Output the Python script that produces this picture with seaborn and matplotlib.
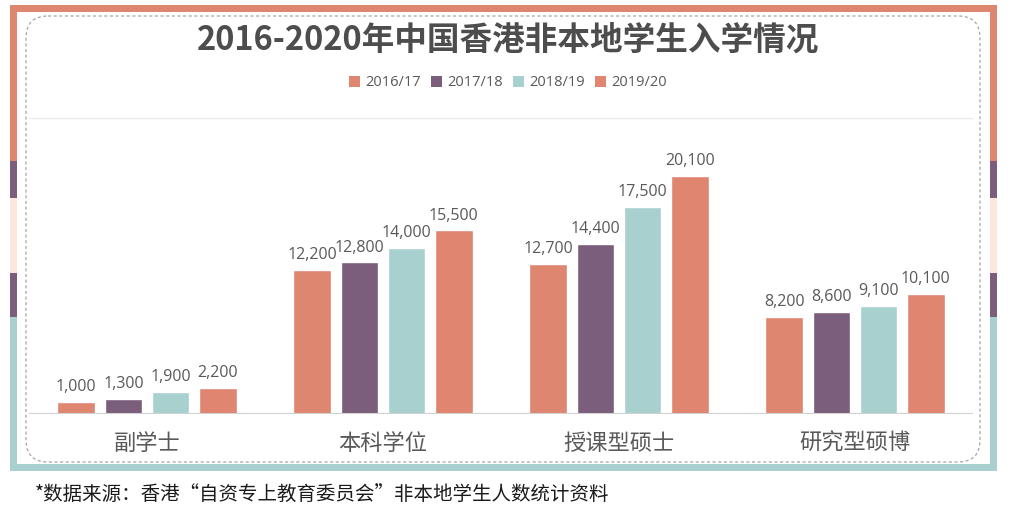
import matplotlib
matplotlib.use("Agg")
import matplotlib.pyplot as plt
import seaborn as sns
import pandas as pd
from matplotlib.patches import Rectangle, FancyBboxPatch, Patch

categories = ["副学士", "本科学位", "授课型硕士", "研究型硕博"]
years = ["2016/17", "2017/18", "2018/19", "2019/20"]
v_2016 = [1000, 12200, 12700, 8200]
v_2017 = [1300, 12800, 14400, 8600]
v_2018 = [1900, 14000, 17500, 9100]
v_2019 = [2200, 15500, 20100, 10100]
colors = ["#DE8670", "#7B5E7B", "#A7D0CE", "#DF8570"]

title = "2016-2020年中国香港非本地学生入学情况"
footnote = "*数据来源：香港“自资专上教育委员会”非本地学生人数统计资料"

rows = []
for yr, vals in zip(years, [v_2016, v_2017, v_2018, v_2019]):
    for c, v in zip(categories, vals):
        rows.append({"cat": c, "year": yr, "val": v})
df = pd.DataFrame(rows)

sns.set_theme(style="white")
plt.rcParams['font.family'] = ['Noto Sans CJK SC', 'DejaVu Sans']
num_font = ['Open Sans', 'Noto Sans CJK SC']

W, H = 1016, 518
fig = plt.figure(figsize=(W / 100, H / 100), dpi=100)

# background decoration axes in pixel coordinates
bg = fig.add_axes([0, 0, 1, 1], zorder=0)
bg.set_xlim(0, W)
bg.set_ylim(H, 0)
bg.axis("off")

salmon, purple, peach, teal = "#DE8670", "#7B5E7B", "#FCE7DC", "#A9CFCF"
x0, x1, y0, y1, t = 10, 997, 5, 471, 7
bg.add_patch(Rectangle((x0, y0), x1 - x0, t, color=salmon, lw=0))
bg.add_patch(Rectangle((x0, y1 - t), x1 - x0, t, color=teal, lw=0))
stripes = [(y0, 161, salmon), (161, 198, purple), (198, 273, peach),
           (273, 317, purple), (317, y1, teal)]
for ya, yb, col in stripes:
    bg.add_patch(Rectangle((x0, ya), t, yb - ya, color=col, lw=0))
    bg.add_patch(Rectangle((x1 - t, ya), t, yb - ya, color=col, lw=0))
bg.add_patch(FancyBboxPatch((26, 16), 980 - 26, 462 - 16,
                            boxstyle="round,pad=0,rounding_size=22",
                            fill=False, ec="#A6A6A6", lw=0.9, ls=(0, (2.5, 2))))

ax = fig.add_axes([29 / W, 104 / H, 944 / W, 296 / H], zorder=1)
ax.set_facecolor("none")
sns.barplot(data=df, x="cat", y="val", hue="year", palette=colors,
            width=0.8, gap=0.2, ax=ax, legend=False, saturation=1)
ax.set_xlim(-0.5, 3.5)
ax.set_ylim(0, 25000)
for cont in ax.containers:
    ax.bar_label(cont, labels=[f"{v:,.0f}" for v in cont.datavalues],
                 padding=5, fontsize=11.5, color="#595959", family=num_font)
ax.axhline(25000, color="#E8E8E8", lw=1, zorder=0)
ax.axhline(0, color="#D0D0D0", lw=1.5, zorder=3)
for s in ax.spines.values():
    s.set_visible(False)
ax.set_yticks([])
ax.set_xlabel("")
ax.set_ylabel("")
ax.tick_params(axis="x", length=0, pad=13, labelsize=16, labelcolor="#595959")

fig.text(0.5, 1 - 40 / H, title, ha="center", va="center", fontsize=23.5,
         fontweight="bold", color="#4D4D4D")
handles = [Patch(facecolor=c, edgecolor="none") for c in colors]
leg = fig.legend(handles, years, loc="center", bbox_to_anchor=(0.5, 1 - 83 / H), ncol=4,
                 frameon=False, handlelength=0.75, handleheight=0.75,
                 handletextpad=0.35, columnspacing=0.7, labelcolor="#595959",
                 prop={'family': num_font, 'size': 10.5})
fig.text(35 / W, 1 - 494 / H, footnote, ha="left", va="center", fontsize=14,
         color="#1A1A1A")

fig.savefig("out.png", dpi=100)
